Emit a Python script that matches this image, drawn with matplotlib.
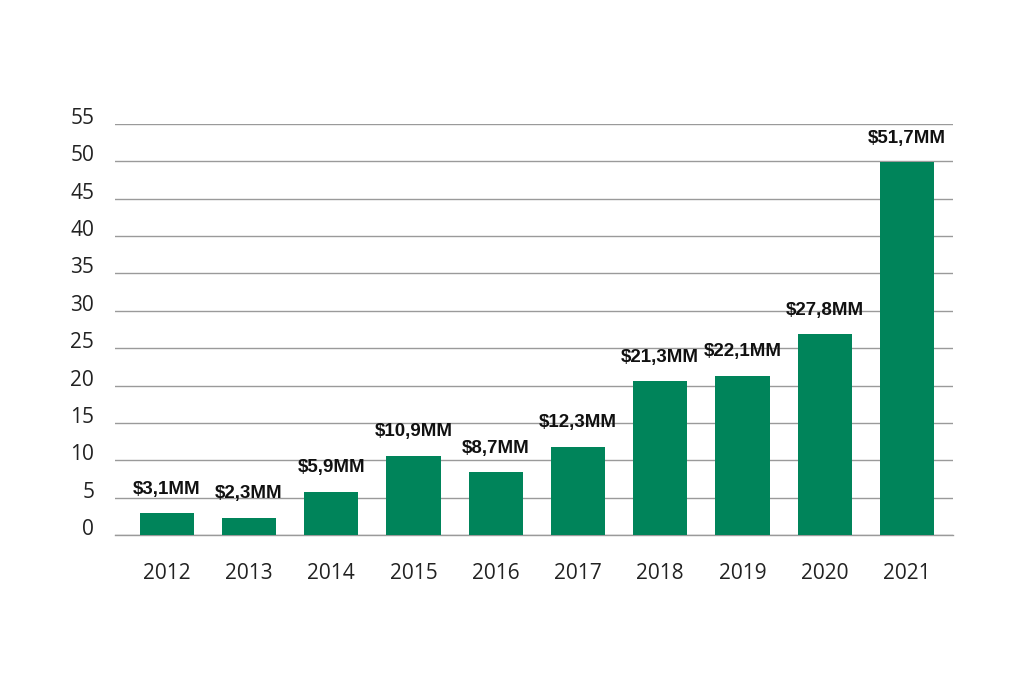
import numpy as np
import matplotlib.pyplot as plt

# Datos
years = ['2012', '2013', '2014', '2015', '2016', '2017', '2018', '2019', '2020', '2021']
heights = [2.9, 2.3, 5.8, 10.6, 8.4, 11.8, 20.6, 21.3, 26.9, 49.9]
labels = ['$3,1MM', '$2,3MM', '$5,9MM', '$10,9MM', '$8,7MM', '$12,3MM',
          '$21,3MM', '$22,1MM', '$27,8MM', '$51,7MM']
yticks = [0, 5, 10, 15, 20, 25, 30, 35, 40, 45, 50, 55]

green = '#00845A'

fig = plt.figure(figsize=[10.24, 6.83], dpi=100)
ax = fig.add_axes([0.1123, 0.2167, 0.8184, 0.6018])

x = np.arange(len(years))
ax.bar(x, heights, width=0.66, color=green, zorder=3)

for xi, h, lab in zip(x, heights, labels):
    ax.annotate(lab, (xi, h), xytext=(0, 14), textcoords='offset points',
                ha='center', va='baseline', fontsize=13.5, fontweight='bold',
                family='Liberation Sans', color='#111111')

ax.set_xlim(-0.63, 9.56)
ax.set_ylim(0, 55)
ax.set_yticks(yticks)
ax.set_xticks(x)
ax.set_xticklabels(years)
ax.yaxis.grid(True, color='#9a9a9a', linewidth=1)
ax.axhline(0, color='#9a9a9a', linewidth=1, clip_on=False, zorder=2)
ax.set_axisbelow(True)

for s in ['top', 'bottom', 'left', 'right']:
    ax.spines[s].set_visible(False)

ax.tick_params(axis='x', length=0, pad=20, labelsize=15, labelcolor='#222222')
ax.tick_params(axis='y', length=0, pad=15, labelsize=15, labelcolor='#222222')
for t in ax.get_xticklabels() + ax.get_yticklabels():
    t.set_family('Open Sans')
for t in ax.get_yticklabels():
    t.set_verticalalignment('baseline')

fig.savefig('out.png', dpi=100)
